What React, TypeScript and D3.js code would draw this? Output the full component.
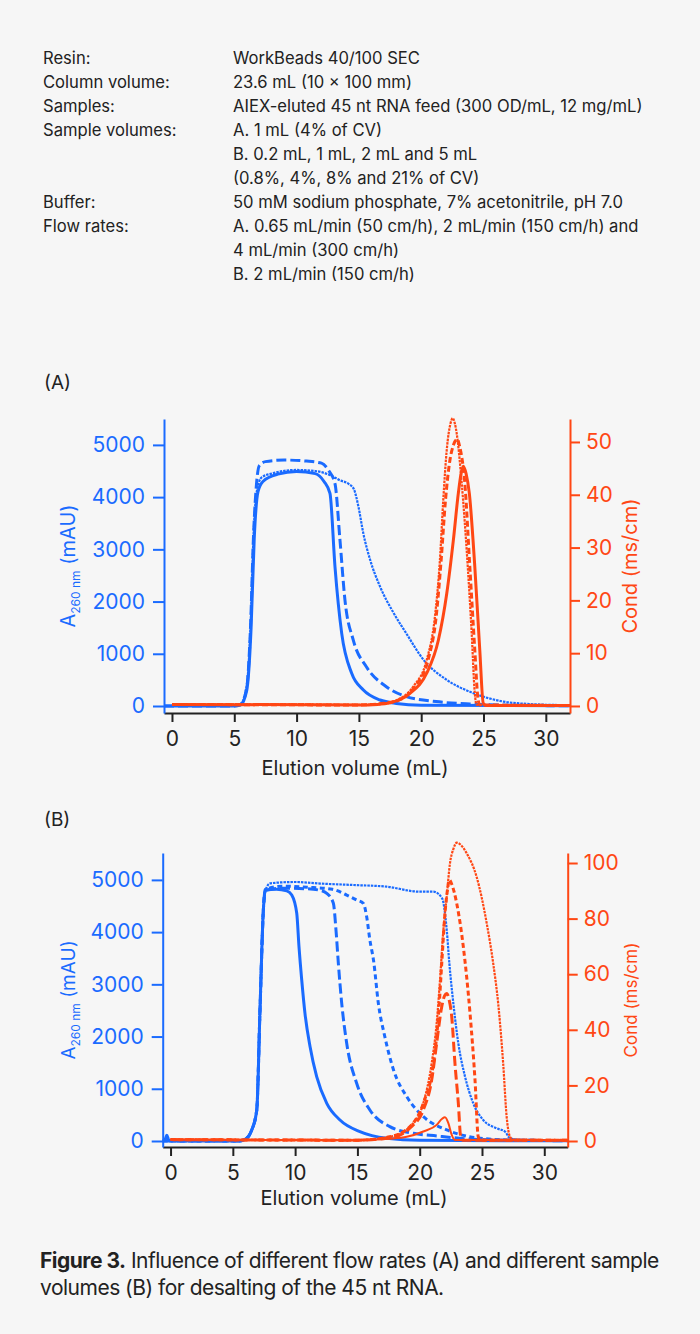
import React, { useEffect, useRef } from 'react';
import * as d3 from 'd3';

const BLUE = '#1a6bff';
const ORANGE = '#ff4714';
const INK = '#222222';
const FONT = 'Inter, "Noto Sans", sans-serif';

// method details shown above the charts
const infoLabels = ['Resin:', 'Column volume:', 'Samples:', 'Sample volumes:', '', '', 'Buffer:', 'Flow rates:', '', ''];
const infoValues = [
  'WorkBeads 40/100 SEC',
  '23.6 mL (10 × 100 mm)',
  'AIEX-eluted 45 nt RNA feed (300 OD/mL, 12 mg/mL)',
  'A. 1 mL (4% of CV)',
  'B. 0.2 mL, 1 mL, 2 mL and 5 mL',
  '(0.8%, 4%, 8% and 21% of CV)',
  '50 mM sodium phosphate, 7% acetonitrile, pH 7.0',
  'A. 0.65 mL/min (50 cm/h), 2 mL/min (150 cm/h) and',
  '4 mL/min (300 cm/h)',
  'B. 2 mL/min (150 cm/h)',
];

const xTicks = [0, 5, 10, 15, 20, 25, 30];
const absTicks = [0, 1000, 2000, 3000, 4000, 5000];
const condTicksA = [0, 10, 20, 30, 40, 50];
const condTicksB = [0, 20, 40, 60, 80, 100];

// (A) A260 traces [mL, mAU]
const aBlueSolid = [[-0.64, 0], [5.0, 0], [5.5, 20], [6.0, 300], [6.35, 1500], [6.6, 3200], [6.9, 4100], [7.3, 4300], [8.5, 4440], [10, 4490], [11.5, 4450], [12.2, 4300], [12.68, 4070], [13.08, 2670], [13.62, 1390], [14.42, 626], [15.36, 306], [16.7, 115], [18, 50], [20, 15], [31.94, 5]];
const aBlueDash = [[-0.64, 0], [5.0, 0], [5.5, 30], [6.0, 350], [6.3, 1500], [6.55, 3300], [6.8, 4300], [7.0, 4600], [7.5, 4680], [9, 4710], [10.8, 4690], [12, 4650], [12.6, 4500], [13.08, 4260], [13.48, 3180], [13.88, 2030], [14.55, 1260], [15.6, 750], [17.2, 370], [18.8, 180], [21.2, 85], [23.9, 38], [27, 15], [31.94, 5]];
const aBlueDot = [[-0.64, 0], [5.0, 0], [5.5, 30], [6.0, 400], [6.3, 1500], [6.55, 3300], [6.8, 4100], [7.2, 4380], [8, 4450], [10, 4520], [11.5, 4500], [12.6, 4430], [13.5, 4320], [14.2, 4250], [14.6, 4150], [14.96, 3820], [15.36, 3300], [15.9, 2800], [16.7, 2285], [17.8, 1775], [18.8, 1392], [20.2, 880], [22.05, 500], [24.2, 245], [26.6, 85], [28.5, 40], [31.94, 15]];

// (A) conductivity traces [mL, mS/cm]
const aOrangeSolid = [[0, 0.3], [15, 0.2], [16.5, 0.3], [17.5, 0.6], [19.1, 2.4], [20.44, 6.2], [21.38, 12.5], [22.05, 21.3], [22.58, 31.4], [22.98, 40.3], [23.2, 44], [23.38, 45.4], [23.6, 44], [23.86, 40.3], [24.3, 26.4], [24.7, 10.6], [24.98, 0.5], [25.2, 0.1], [31.94, 0.1]];
const aOrangeDash = [[0, 0.3], [15, 0.2], [17, 0.5], [18.2, 1.1], [19.5, 3.7], [20.55, 8.7], [21.2, 16.9], [21.6, 27.6], [21.95, 39], [22.3, 46.5], [22.6, 49.5], [22.9, 50.5], [23.1, 49], [23.5, 42.2], [23.9, 26.4], [24.3, 10.6], [24.55, 1.5], [24.7, 0.2], [31.94, 0.1]];
const aOrangeDot = [[0, 0.3], [10, 0.3], [15, 0.2], [17, 0.5], [18.03, 1.1], [19.37, 3.7], [20.44, 8.7], [21.1, 16.9], [21.5, 27.6], [21.77, 39], [22.05, 48.5], [22.35, 53.5], [22.53, 54.5], [22.7, 53.5], [22.85, 51.6], [23.25, 42.2], [23.65, 29.5], [24.05, 13.8], [24.3, 2.4], [24.45, 0.2], [31.94, 0.1]];

// (B) A260 traces, sample volumes 0.2 / 1 / 2 / 5 mL
const bBlue02 = [[-0.63, 0], [-0.45, 20], [-0.3, 110], [-0.15, 20], [0, 0], [5.5, 0], [5.98, 30], [6.5, 200], [6.92, 594], [7.18, 2509], [7.45, 4423], [7.6, 4800], [8.5, 4820], [9.33, 4790], [9.73, 4710], [10.13, 4360], [10.31, 3721], [10.53, 3083], [10.79, 2445], [11.2, 1806], [11.73, 1232], [12.54, 722], [13.6, 402], [15.2, 179], [17.35, 51], [20, 12], [31.88, 5]];
const bBlue1 = [[-0.63, 0], [5.5, 0], [5.98, 30], [6.5, 200], [6.92, 594], [7.18, 2509], [7.45, 4423], [7.6, 4800], [9, 4840], [11, 4830], [12.0, 4800], [12.54, 4743], [13.07, 4551], [13.28, 4040], [13.47, 3403], [13.74, 2637], [14.14, 1871], [14.94, 1105], [16.0, 594], [17.6, 275], [19.5, 147], [21.4, 96], [23.2, 52], [26, 20], [31.88, 5]];
const bBlue2 = [[-0.63, 0], [5.5, 0], [5.98, 30], [6.5, 200], [6.92, 594], [7.18, 2509], [7.45, 4423], [7.6, 4820], [9, 4880], [11, 4860], [13, 4820], [14.14, 4710], [14.94, 4615], [15.47, 4551], [15.74, 4300], [16.0, 3850], [16.3, 3450], [16.68, 2637], [17.2, 1998], [17.9, 1360], [18.96, 849], [20.3, 466], [22.17, 211], [24.0, 83], [27, 20], [31.88, 8]];
const bBlue5 = [[-0.63, 0], [5.5, 0], [5.98, 30], [6.5, 200], [6.92, 594], [7.18, 2509], [7.45, 4423], [7.7, 4850], [8.0, 4935], [10, 4960], [12, 4930], [14.7, 4902], [17.35, 4870], [20.0, 4774], [21.1, 4774], [21.8, 4648], [22.17, 4040], [22.38, 3402], [22.7, 2637], [23.1, 1871], [23.64, 1232], [24.3, 722], [25.1, 402], [26.18, 243], [26.85, 179], [27.25, 52], [28, 25], [31.88, 15]];

// (B) conductivity traces
const bOrange02 = [[0, 0.5], [15, 0.3], [17.5, 0.8], [18.96, 1.5], [20.29, 3.4], [21.36, 5.8], [21.8, 8.0], [22.03, 8.5], [22.3, 6.4], [22.57, 2.2], [22.83, 0.4], [31.88, 0.3]];
const bOrange1 = [[0, 0.5], [15, 0.3], [17.8, 1.3], [19.2, 4.6], [20.29, 11.2], [20.96, 21.9], [21.36, 35.1], [21.77, 48.3], [22.0, 52.3], [22.17, 53.1], [22.35, 51], [22.57, 44.7], [22.83, 27.9], [23.1, 13.6], [23.29, 1.5], [23.45, 0.3], [31.88, 0.3]];
const bOrange2 = [[0, 0.5], [15, 0.3], [17.6, 1.5], [19.2, 5.1], [20.29, 13.6], [21.1, 27.9], [21.5, 44.7], [21.77, 63.9], [22.03, 81.9], [22.25, 91], [22.38, 93.9], [22.6, 92], [22.97, 85.5], [23.5, 69.9], [24.04, 45.9], [24.44, 21.9], [24.7, 1.5], [24.9, 0.3], [31.88, 0.3]];
const bOrange5 = [[0, 0.5], [15, 0.3], [17.6, 1.5], [19.2, 5.1], [20.29, 13.6], [20.96, 27.9], [21.36, 42.3], [21.63, 57.9], [21.9, 75.9], [22.17, 87.9], [22.43, 99.9], [22.7, 105], [22.97, 107.3], [23.3, 106.5], [23.77, 103.5], [24.57, 95], [25.38, 78.3], [25.9, 63.9], [26.3, 49.5], [26.7, 27.9], [26.98, 8.7], [27.25, 1.5], [27.5, 0.5], [31.88, 0.3]];

const THICK = { width: 3, dash: null };
const LONGDASH = { width: 3, dash: '10 4' };
const SHORTDASH = { width: 3, dash: '5 3.5' };
const DOT = { width: 2.2, dash: '2.5 1' };

const panels = [
  {
    label: '(A)', labelY: 389,
    left: 164, right: 570, top: 419, bottom: 713,
    xDomain: [-0.64, 31.94], absDomain: [-134, 5496], condDomain: [-1.33, 54.35],
    condTicks: condTicksA, condTitleSize: 20, absTitleSize: 20,
    titleY: 775, titleX: 355,
    abs: [[aBlueSolid, THICK], [aBlueDash, LONGDASH], [aBlueDot, DOT]],
    cond: [[aOrangeSolid, THICK], [aOrangeDash, { width: 3, dash: '6 3' }], [aOrangeDot, DOT]],
  },
  {
    label: '(B)', labelY: 826,
    left: 162.7, right: 567.7, top: 853, bottom: 1147,
    xDomain: [-0.63, 31.88], absDomain: [-115, 5515], condDomain: [-2.16, 103.6],
    condTicks: condTicksB, condTitleSize: 17, absTitleSize: 19,
    titleY: 1205, titleX: 354,
    abs: [[bBlue02, THICK], [bBlue1, LONGDASH], [bBlue2, SHORTDASH], [bBlue5, DOT]],
    cond: [[bOrange02, { width: 2, dash: null }], [bOrange1, LONGDASH], [bOrange2, { width: 3, dash: '5 3' }], [bOrange5, DOT]],
  },
];

function drawPanel(svg, p) {
  const x = d3.scaleLinear().domain(p.xDomain).range([p.left, p.right]);
  const yA = d3.scaleLinear().domain(p.absDomain).range([p.bottom, p.top]);
  const yC = d3.scaleLinear().domain(p.condDomain).range([p.bottom, p.top]);
  const fmt = d3.format('d');

  svg.append('text')
    .attr('x', 44).attr('y', p.labelY)
    .attr('font-size', 19).attr('fill', INK)
    .text(p.label);

  const lineA = d3.line().x(d => x(d[0])).y(d => yA(d[1])).curve(d3.curveMonotoneX);
  const lineC = d3.line().x(d => x(d[0])).y(d => yC(d[1])).curve(d3.curveMonotoneX);

  p.abs.forEach(([data, st]) => {
    svg.append('path').datum(data)
      .attr('fill', 'none').attr('stroke', BLUE)
      .attr('stroke-width', st.width)
      .attr('stroke-dasharray', st.dash)
      .attr('stroke-linejoin', 'round')
      .attr('d', lineA);
  });
  p.cond.forEach(([data, st]) => {
    svg.append('path').datum(data)
      .attr('fill', 'none').attr('stroke', ORANGE)
      .attr('stroke-width', st.width)
      .attr('stroke-dasharray', st.dash)
      .attr('stroke-linejoin', 'round')
      .attr('d', lineC);
  });

  // axes
  const gx = svg.append('g')
    .attr('transform', `translate(0,${p.bottom})`)
    .call(d3.axisBottom(x).tickValues(xTicks).tickFormat(fmt).tickSize(9).tickSizeOuter(0).tickPadding(9));
  gx.selectAll('path, line').attr('stroke', INK).attr('stroke-width', 2);
  gx.selectAll('text').attr('fill', INK).attr('font-size', 21).attr('font-family', FONT);

  const gl = svg.append('g')
    .attr('transform', `translate(${p.left},0)`)
    .call(d3.axisLeft(yA).tickValues(absTicks).tickFormat(fmt).tickSize(11).tickSizeOuter(0).tickPadding(8));
  gl.selectAll('path, line').attr('stroke', BLUE).attr('stroke-width', 2);
  gl.selectAll('text').attr('fill', BLUE).attr('font-size', 21).attr('font-family', FONT);

  const gr = svg.append('g')
    .attr('transform', `translate(${p.right},0)`)
    .call(d3.axisRight(yC).tickValues(p.condTicks).tickFormat(fmt).tickSize(10).tickSizeOuter(0).tickPadding(6));
  gr.selectAll('path, line').attr('stroke', ORANGE).attr('stroke-width', 2);
  gr.selectAll('text').attr('fill', ORANGE).attr('font-size', 21).attr('font-family', FONT);

  const mid = (p.top + p.bottom) / 2;

  const tl = svg.append('text')
    .attr('transform', `translate(75,${mid}) rotate(-90)`)
    .attr('text-anchor', 'middle')
    .attr('fill', BLUE).attr('font-size', p.absTitleSize);
  tl.append('tspan').text('A');
  tl.append('tspan').attr('font-size', 12).attr('dy', 5).text('260 nm');
  tl.append('tspan').attr('dy', -5).text(' (mAU)');

  svg.append('text')
    .attr('transform', `translate(637,${mid}) rotate(-90)`)
    .attr('text-anchor', 'middle')
    .attr('fill', ORANGE).attr('font-size', p.condTitleSize)
    .text('Cond (ms/cm)');

  svg.append('text')
    .attr('x', p.titleX).attr('y', p.titleY)
    .attr('text-anchor', 'middle')
    .attr('fill', INK).attr('font-size', 20)
    .text('Elution volume (mL)');
}

export default function App() {
  const ref = useRef(null);

  useEffect(() => {
    const svg = d3.select(ref.current);
    svg.selectAll('*').remove();
    svg.attr('font-family', FONT);

    svg.append('rect').attr('width', 700).attr('height', 1334).attr('fill', '#f6f6f6');

    const info = svg.append('g').attr('font-size', 16.6).attr('fill', INK);
    infoValues.forEach((v, i) => {
      const yy = 64 + i * 24;
      if (infoLabels[i]) info.append('text').attr('x', 43).attr('y', yy).text(infoLabels[i]);
      info.append('text').attr('x', 233).attr('y', yy).text(v);
    });

    panels.forEach(p => drawPanel(svg, p));

    const cap = svg.append('g').attr('font-size', 21).attr('fill', INK).attr('letter-spacing', -0.5);
    const c1 = cap.append('text').attr('x', 40).attr('y', 1268);
    c1.append('tspan').attr('font-weight', 'bold').text('Figure 3.');
    c1.append('tspan').text(' Influence of different flow rates (A) and different sample');
    cap.append('text').attr('x', 40).attr('y', 1295).text('volumes (B) for desalting of the 45 nt RNA.');
  }, []);

  return (
    <svg ref={ref} width={700} height={1334}
      style={{ position: 'absolute', left: 0, top: 0, display: 'block' }} />
  );
}
